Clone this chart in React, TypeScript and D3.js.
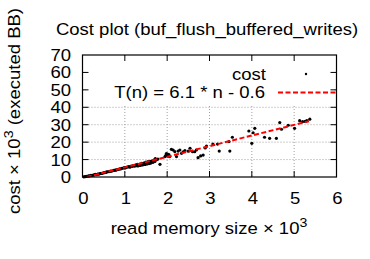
import * as d3 from 'd3';
import React from 'react';

// read memory size (x 10^3) and cost (x 10^3 executed BB)
const readSize = [
  0.03, 0.06, 0.09, 0.11, 0.14, 0.17, 0.2, 0.22, 0.25, 0.28, 0.3, 0.33, 0.36, 0.38, 0.41, 0.44, 0.46, 0.49,
  0.52, 0.55, 0.57, 0.6, 0.63, 0.66, 0.68, 0.71, 0.74, 0.77, 0.79, 0.82, 0.85, 0.88, 0.9, 0.93, 0.96, 0.99,
  1.01, 1.04, 1.07, 1.1, 1.12, 1.15, 1.18, 1.2, 1.23, 1.26, 1.28, 1.3, 1.33, 1.36, 1.38, 1.4, 1.43, 1.46,
  1.48, 1.5, 1.53, 1.55, 1.58, 1.6, 1.62, 1.65, 1.68, 1.7, 1.72, 1.75, 1.78, 1.83,
  1.31, 1.35, 1.42, 1.47, 1.52, 1.57, 1.61, 1.66, 1.71,
  1.95, 1.97, 1.99, 2.01, 2.02, 2.04, 2.06, 1.98, 2.0, 2.03, 2.1, 2.14, 2.18, 2.22, 2.26, 2.3, 2.34, 2.38, 2.42, 2.5, 2.54,
  2.6, 2.65, 2.69, 2.73, 2.79, 2.85, 2.9, 2.93, 3.08, 3.19, 3.23, 3.46, 3.48, 3.54, 3.93, 4.0, 4.03, 4.07,
  4.3, 4.42, 4.58, 4.66, 4.7, 4.86, 5.01, 5.13, 5.2, 5.26, 5.3, 5.37,
];
const cost = [
  0.1, 0.2, 0.4, 0.3, 0.6, 0.7, 0.9, 0.8, 1.1, 1.2, 1.5, 1.4, 1.7, 1.6, 1.9, 2.1, 2.0, 2.4,
  2.5, 2.6, 2.9, 3.0, 3.1, 3.4, 3.3, 3.6, 3.8, 4.0, 3.9, 4.3, 4.4, 4.7, 4.6, 5.0, 5.1, 5.4,
  5.2, 5.6, 5.8, 6.0, 5.6, 6.3, 6.1, 6.6, 6.2, 6.9, 6.5, 7.2, 6.7, 7.4, 6.8, 7.9, 7.1, 8.1,
  7.3, 8.5, 7.6, 8.8, 7.9, 9.0, 8.3, 9.3, 8.7, 9.8, 10.6, 9.9, 10.3, 7.3,
  6.3, 6.6, 7.0, 7.2, 7.5, 7.7, 8.0, 8.4, 8.9,
  11.7, 12.4, 12.8, 13.1, 12.0, 12.9, 11.7, 13.4, 12.3, 12.6, 15.9, 15.5, 14.6, 11.7, 14.9, 15.5, 13.6, 14.5, 15.2, 14.8, 16.5,
  14.5, 14.5, 15.5, 11.1, 12.1, 12.6, 16.7, 17.8, 18.9, 18.9, 14.9, 20.3, 14.9, 22.8, 26.4, 19.3, 25.4, 27.9,
  22.8, 22.2, 22.2, 31.2, 27.4, 29.7, 27.9, 32.3, 31.8, 31.9, 32.4, 33.2,
];
const xTicks = [0, 1, 2, 3, 4, 5, 6];
const yTicks = [0, 10, 20, 30, 40, 50, 60, 70];
const fitRange = [0.1, 5.35];
const fitSlope = 6.1;
const fitIntercept = -0.6;

// text is a bit wider than Liberation Sans in the original, stretch it horizontally
const SX = 1.09;

export default function App() {
  const W = 370, H = 259;
  const left = 82.5, right = 336.5, top = 55, bottom = 177;
  const x = d3.scaleLinear().domain([0, 6]).range([left, right]);
  const y = d3.scaleLinear().domain([0, 70]).range([bottom, top]);
  const font = 'Liberation Sans, Arial, sans-serif';
  const fs = 17;
  const fitLine = d3.line<number>()
    .x(d => x(d))
    .y(d => y(fitSlope * d + fitIntercept))(fitRange);

  const T = (px: number, py: number, anchor: string, content: React.ReactNode, rot = 0) => (
    <g transform={`translate(${px},${py}) rotate(${rot}) scale(${SX},1)`}>
      <text x={0} y={0} fontSize={fs} textAnchor={anchor}>{content}</text>
    </g>
  );

  return (
    <svg width={W} height={H} style={{ position: 'absolute', left: 0, top: 0 }} fontFamily={font}>
      <rect width={W} height={H} fill="#fff" />
      {T(207, 35, 'middle', 'Cost plot (buf_flush_buffered_writes)')}

      {/* grid */}
      <g stroke="#a0a0a0" strokeWidth={1} strokeDasharray="1,2">
        {xTicks.slice(1, -1).map(t => (
          <line key={'gx' + t} x1={x(t)} x2={x(t)} y1={top} y2={bottom} />
        ))}
        {yTicks.slice(1, -1).map(t => (
          <line key={'gy' + t} x1={left} x2={right} y1={y(t)} y2={y(t)} />
        ))}
      </g>

      {/* opaque key box */}
      <rect x={86} y={top + 1} width={right - 89} height={50} fill="#fff" />

      {/* ticks, mirrored on all sides */}
      <g stroke="#000" strokeWidth={1}>
        {xTicks.slice(1, -1).map(t => (
          <g key={'tx' + t}>
            <line x1={x(t)} x2={x(t)} y1={bottom} y2={bottom - 6} />
            <line x1={x(t)} x2={x(t)} y1={top} y2={top + 6} />
          </g>
        ))}
        {yTicks.slice(1, -1).map(t => (
          <g key={'ty' + t}>
            <line x1={left} x2={left + 6} y1={y(t)} y2={y(t)} />
            <line x1={right} x2={right - 6} y1={y(t)} y2={y(t)} />
          </g>
        ))}
      </g>

      {/* points */}
      <g fill="#000">
        {readSize.map((v, i) => (
          <circle key={i} cx={x(v)} cy={y(cost[i])} r={1.6} />
        ))}
      </g>
      <path d={fitLine ?? ''} fill="none" stroke="#f00" strokeWidth={2} strokeDasharray="5,2.5" />

      <rect x={left} y={top} width={right - left} height={bottom - top} fill="none" stroke="#000" strokeWidth={1.2} />

      {/* key */}
      {T(266, 80, 'end', 'cost')}
      <circle cx={306} cy={74} r={1.2} fill="#000" />
      {T(265, 98, 'end', 'T(n) = 6.1 * n - 0.6')}
      <line x1={278} x2={right} y1={92.5} y2={92.5} stroke="#f00" strokeWidth={2} strokeDasharray="5,2.5" />

      {/* tick labels */}
      {xTicks.map(t => <g key={'lx' + t}>{T(x(t) + 1, 204, 'middle', String(t))}</g>)}
      {yTicks.map(t => <g key={'ly' + t}>{T(71, y(t) + 6, 'end', String(t))}</g>)}

      {T(209, 234, 'middle', <>read memory size × 10<tspan dy={-7} fontSize={13}>3</tspan></>)}
      {T(20, 111, 'middle', <>cost × 10<tspan dy={-7} fontSize={13}>3</tspan><tspan dy={7}> (executed BB)</tspan></>, -90)}
    </svg>
  );
}
